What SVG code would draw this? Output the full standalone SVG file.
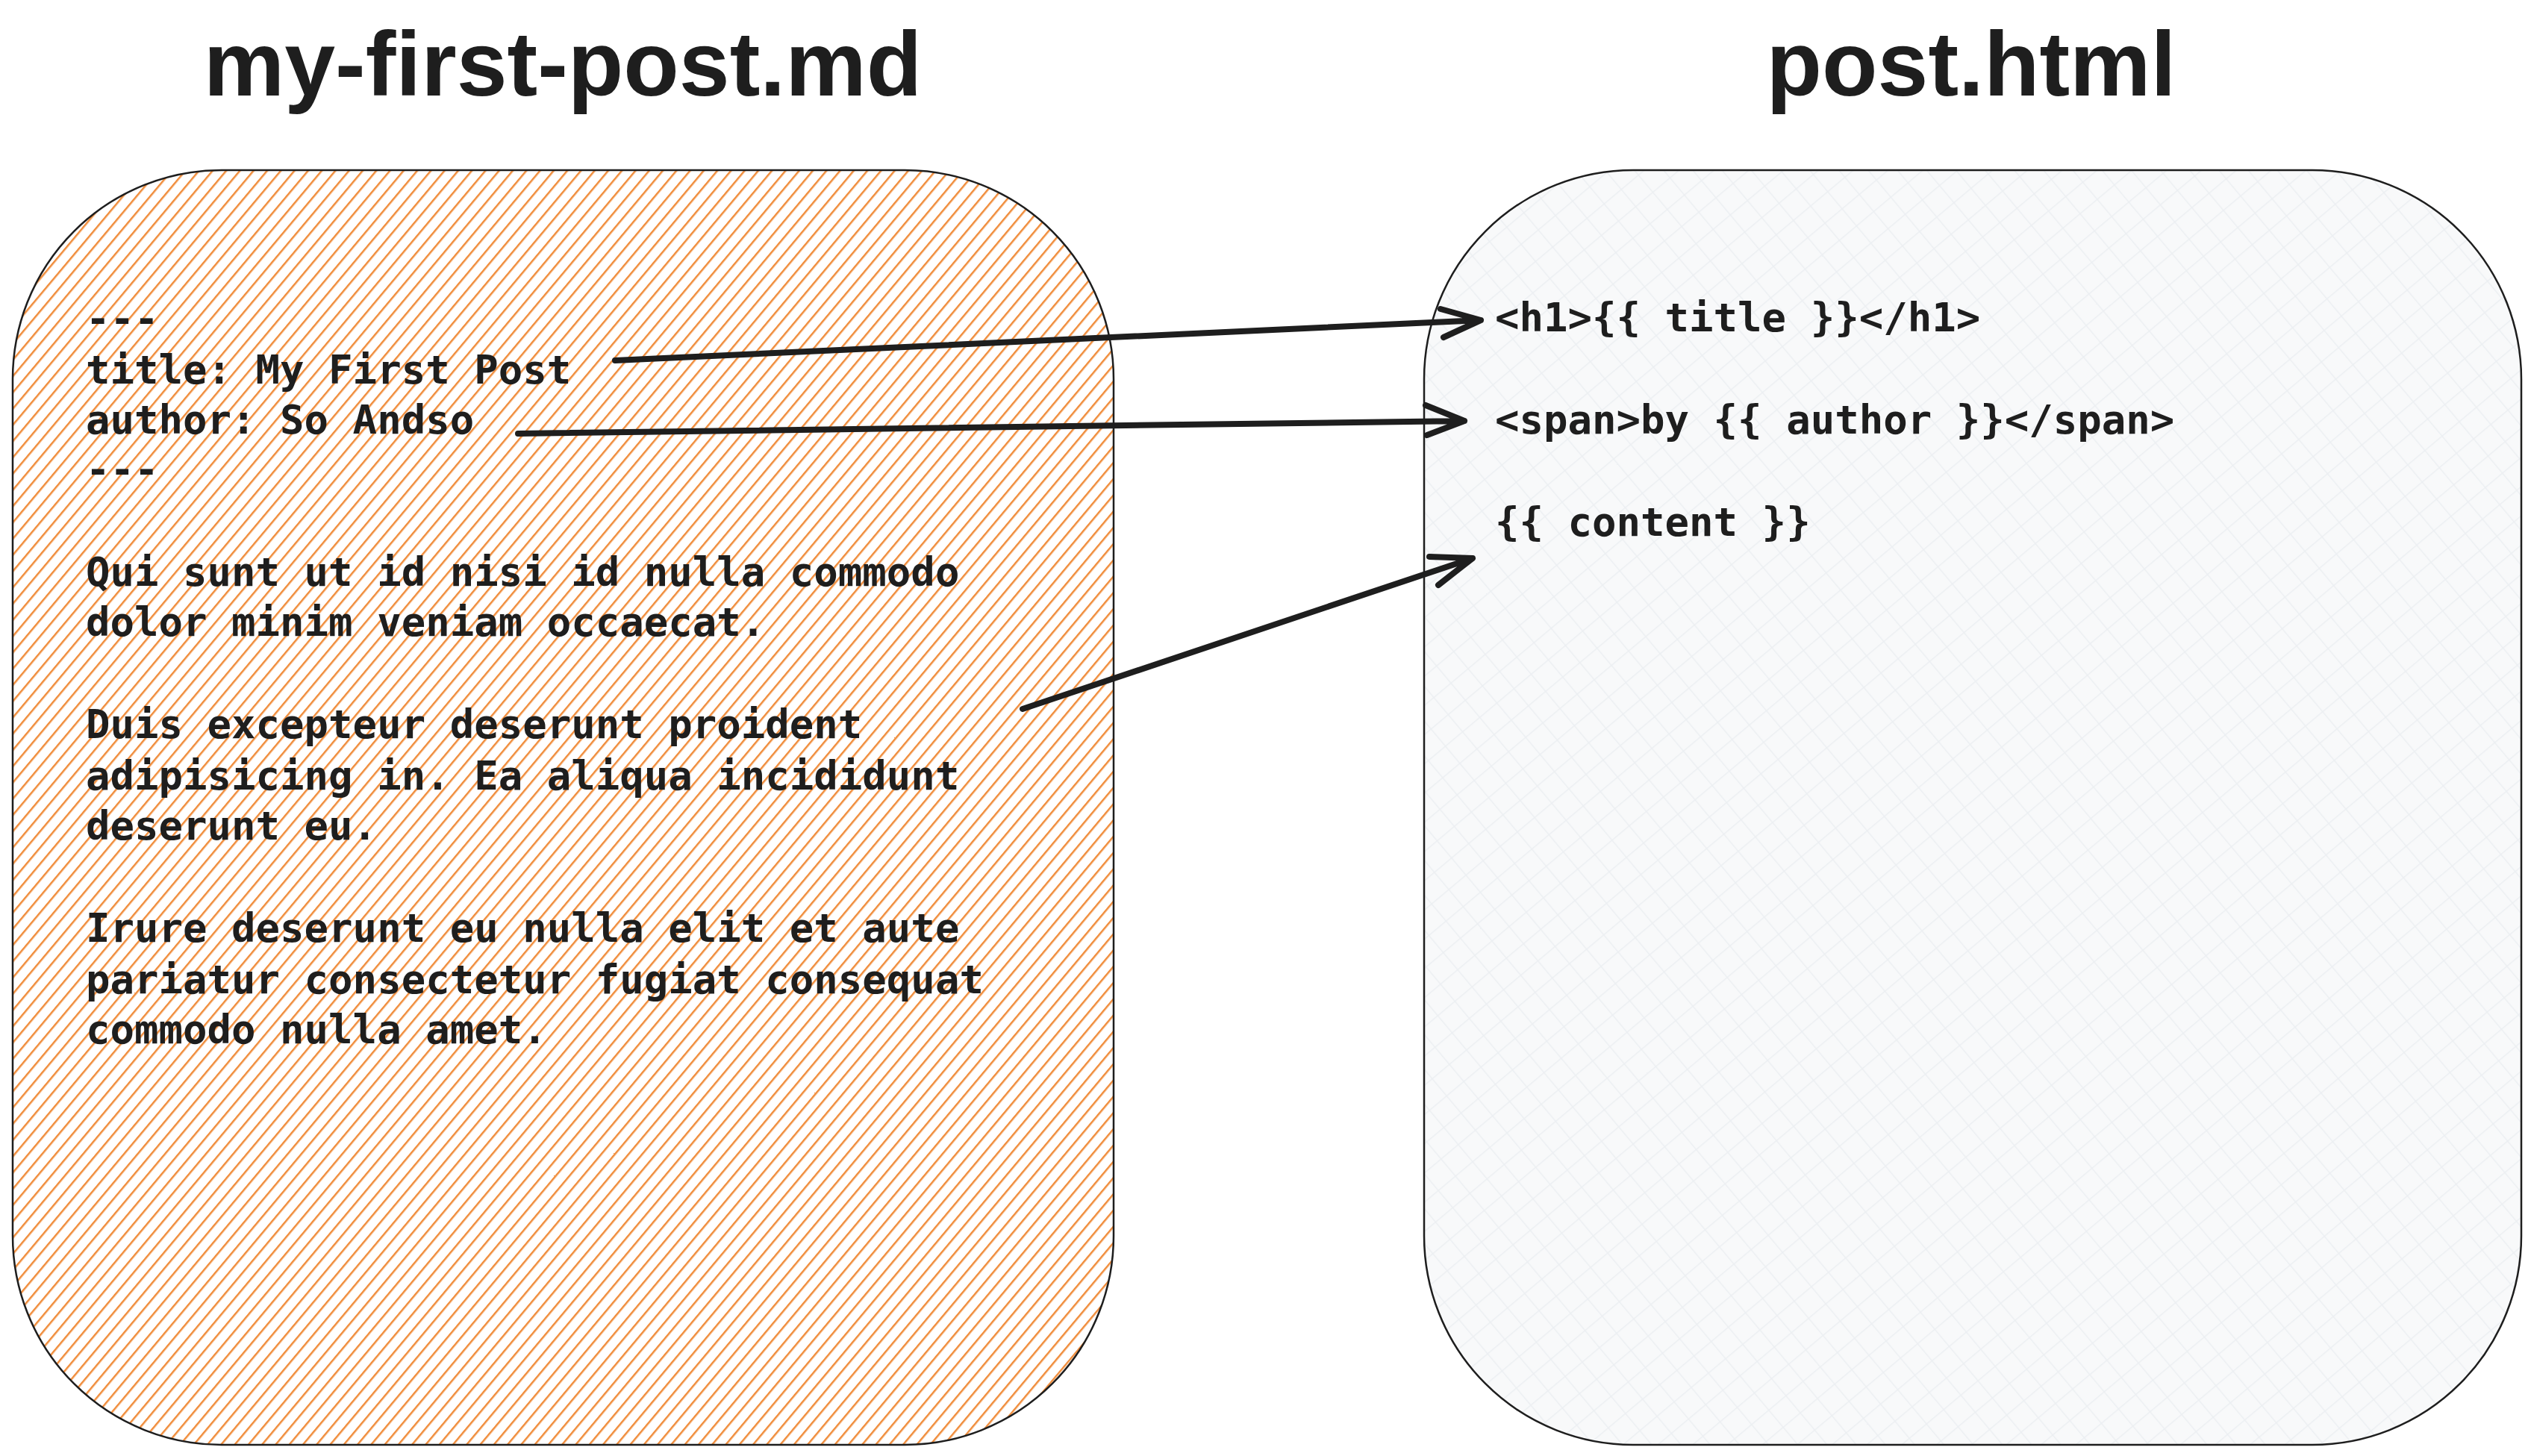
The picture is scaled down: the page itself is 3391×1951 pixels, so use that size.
<svg xmlns="http://www.w3.org/2000/svg" width="3391" height="1951" viewBox="0 0 3391 1951">
<style>
.t{font-family:"DejaVu Sans Mono","Liberation Mono",monospace;font-size:54px;font-weight:bold;fill:#1e1e1e}
.h{font-family:"Comic Sans MS","Liberation Sans",sans-serif;font-size:122px;font-weight:bold;fill:#1e1e1e}
.c{fill:none;stroke:#1e1e1e;stroke-width:8;stroke-linecap:round;stroke-linejoin:round}
</style>
<defs>
<pattern id="or" width="14" height="14" patternUnits="userSpaceOnUse" patternTransform="rotate(40)">
<rect width="14" height="14" fill="#fff"/>
<line x1="0" y1="0" x2="0" y2="14" stroke="#f08c3a" stroke-width="5"/>
</pattern>
<pattern id="gr" width="30" height="30" patternUnits="userSpaceOnUse" patternTransform="rotate(-40)">
<rect width="30" height="30" fill="#f8f9fa"/>
<line x1="0" y1="0" x2="0" y2="30" stroke="#eceff2" stroke-width="3"/>
<line x1="0" y1="0" x2="30" y2="0" stroke="#eceff2" stroke-width="3"/>
</pattern>
</defs>
<rect width="3391" height="1951" fill="#fff"/>
<g id="title1"><text class="h" x="754" y="128" text-anchor="middle">my-first-post.md</text></g>
<g id="title2"><text class="h" x="2641" y="128" text-anchor="middle">post.html</text></g>
<g id="md">
<rect x="17" y="228" width="1475" height="1708" rx="280" fill="url(#or)" stroke="#1e1e1e" stroke-width="2.5"/>
<text class="t" x="115" y="446">---</text>
<text class="t" x="115" y="514">title: My First Post</text>
<text class="t" x="115" y="581">author: So Andso</text>
<text class="t" x="115" y="648">---</text>
<text class="t" x="115" y="785">Qui sunt ut id nisi id nulla commodo</text>
<text class="t" x="115" y="852">dolor minim veniam occaecat.</text>
<text class="t" x="115" y="989">Duis excepteur deserunt proident</text>
<text class="t" x="115" y="1058">adipisicing in. Ea aliqua incididunt</text>
<text class="t" x="115" y="1125">deserunt eu.</text>
<text class="t" x="115" y="1262">Irure deserunt eu nulla elit et aute</text>
<text class="t" x="115" y="1331">pariatur consectetur fugiat consequat</text>
<text class="t" x="115" y="1398">commodo nulla amet.</text>
</g>
<g id="html">
<rect x="1908" y="228" width="1470" height="1708" rx="280" fill="url(#gr)" stroke="#1e1e1e" stroke-width="2.5"/>
<text class="t" x="2003" y="444">&lt;h1&gt;{{ title }}&lt;/h1&gt;</text>
<text class="t" x="2003" y="581">&lt;span&gt;by {{ author }}&lt;/span&gt;</text>
<text class="t" x="2003" y="718">{{ content }}</text>
</g>
<g id="connectors">
<path class="c" d="M824 483 L1984 429 M1930 414 L1984 429 L1934 452"/>
<path class="c" d="M694 581 L1962 564 M1910 543 L1962 564 L1912 583"/>
<path class="c" d="M1370 950 L1973 748 M1915 746 L1973 748 L1927 784"/>
</g>
</svg>
